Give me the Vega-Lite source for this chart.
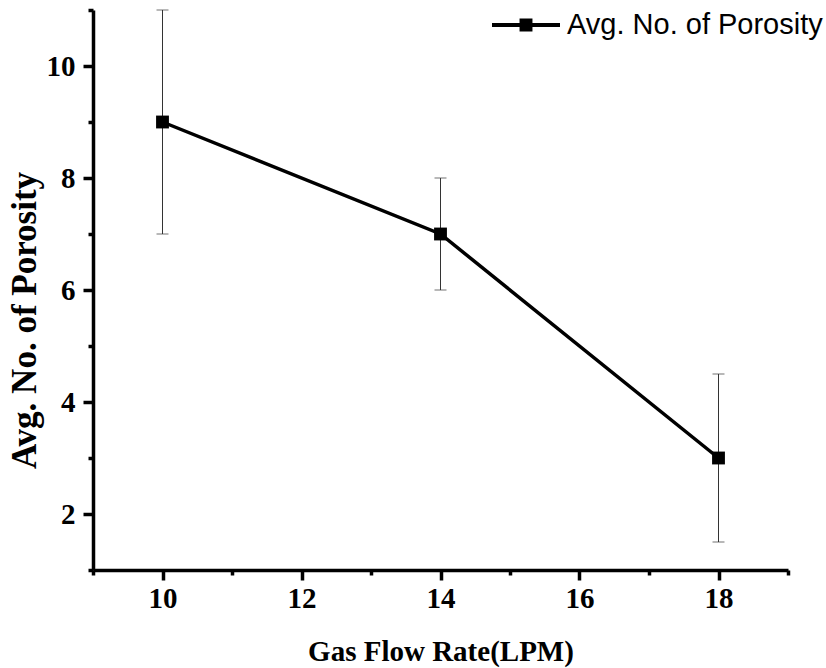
{
  "$schema": "https://vega.github.io/schema/vega-lite/v6.json",
  "width": 695,
  "height": 560,
  "autosize": {"type": "none"},
  "padding": {"left": 93, "top": 10, "right": 38, "bottom": 98},
  "background": "white",
  "config": {"view": {"stroke": null}, "font": "Liberation Serif"},
  "data": {
    "values": [
      {"rate": 10, "avg": 9, "lo": 7, "hi": 11, "series": "Avg. No. of Porosity"},
      {"rate": 14, "avg": 7, "lo": 6, "hi": 8, "series": "Avg. No. of Porosity"},
      {"rate": 18, "avg": 3, "lo": 1.5, "hi": 4.5, "series": "Avg. No. of Porosity"}
    ]
  },
  "layer": [
    {
      "mark": {"type": "errorbar", "ticks": true, "size": 12, "thickness": 1, "color": "#333"},
      "encoding": {
        "x": {
          "field": "rate", "type": "quantitative",
          "scale": {"domain": [9, 19], "nice": false, "zero": false},
          "axis": {
            "values": [9, 10, 11, 12, 13, 14, 15, 16, 17, 18, 19],
            "format": "d",
            "labelExpr": "datum.value % 2 === 0 ? datum.label : ''",
            "title": "Gas Flow Rate(LPM)",
            "grid": false,
            "domainColor": "black", "domainWidth": 3.5,
            "tickColor": "black", "tickWidth": 3.5,
            "tickSize": {"condition": {"test": "datum.value % 2 === 0", "value": 10}, "value": 5},
            "labelFont": "Liberation Serif", "labelFontWeight": "bold", "labelFontSize": 29, "labelColor": "black",
            "labelPadding": 4, "labelFlush": false, "labelOverlap": false,
            "titleFont": "Liberation Serif", "titleFontWeight": "bold", "titleFontSize": 29, "titleColor": "black",
            "titlePadding": 24
          }
        },
        "y": {
          "field": "lo", "type": "quantitative",
          "scale": {"domain": [1, 11], "nice": false, "zero": false},
          "axis": {
            "values": [1, 2, 3, 4, 5, 6, 7, 8, 9, 10, 11],
            "format": "d",
            "labelExpr": "datum.value % 2 === 0 ? datum.label : ''",
            "title": "Avg. No. of Porosity",
            "grid": false,
            "domainColor": "black", "domainWidth": 3.5,
            "tickColor": "black", "tickWidth": 3.5,
            "tickSize": {"condition": {"test": "datum.value % 2 === 0", "value": 10}, "value": 5},
            "labelFont": "Liberation Serif", "labelFontWeight": "bold", "labelFontSize": 29, "labelColor": "black",
            "labelPadding": 8, "labelFlush": false, "labelOverlap": false,
            "titleFont": "Liberation Serif", "titleFontWeight": "bold", "titleFontSize": 35, "titleColor": "black",
            "titlePadding": 4, "titleY": 310
          }
        },
        "y2": {"field": "hi"}
      }
    },
    {
      "mark": {"type": "line", "strokeWidth": 3.5, "point": {"shape": "square", "size": 165, "filled": true, "opacity": 1}},
      "encoding": {
        "x": {"field": "rate", "type": "quantitative", "scale": {"domain": [9, 19], "nice": false, "zero": false}, "title": "Gas Flow Rate(LPM)"},
        "y": {"field": "avg", "type": "quantitative", "scale": {"domain": [1, 11], "nice": false, "zero": false}, "title": "Avg. No. of Porosity"},
        "color": {
          "field": "series", "type": "nominal",
          "scale": {"range": ["black"]},
          "legend": {
            "orient": "none", "legendX": 399, "legendY": -19, "title": null, "padding": 0,
            "symbolType": "M-1,-0.06H1V0.06H-1Z M-0.19,-0.19H0.19V0.19H-0.19Z",
            "symbolSize": 4624,
            "labelFont": "Liberation Sans", "labelFontSize": 29, "labelColor": "black", "labelOffset": 7, "labelLimit": 0,
            "encode": {"symbols": {"update": {"fill": {"value": "black"}, "stroke": {"value": "transparent"}, "strokeWidth": {"value": 0}, "opacity": {"value": 1}}}}
          }
        }
      }
    }
  ]
}
